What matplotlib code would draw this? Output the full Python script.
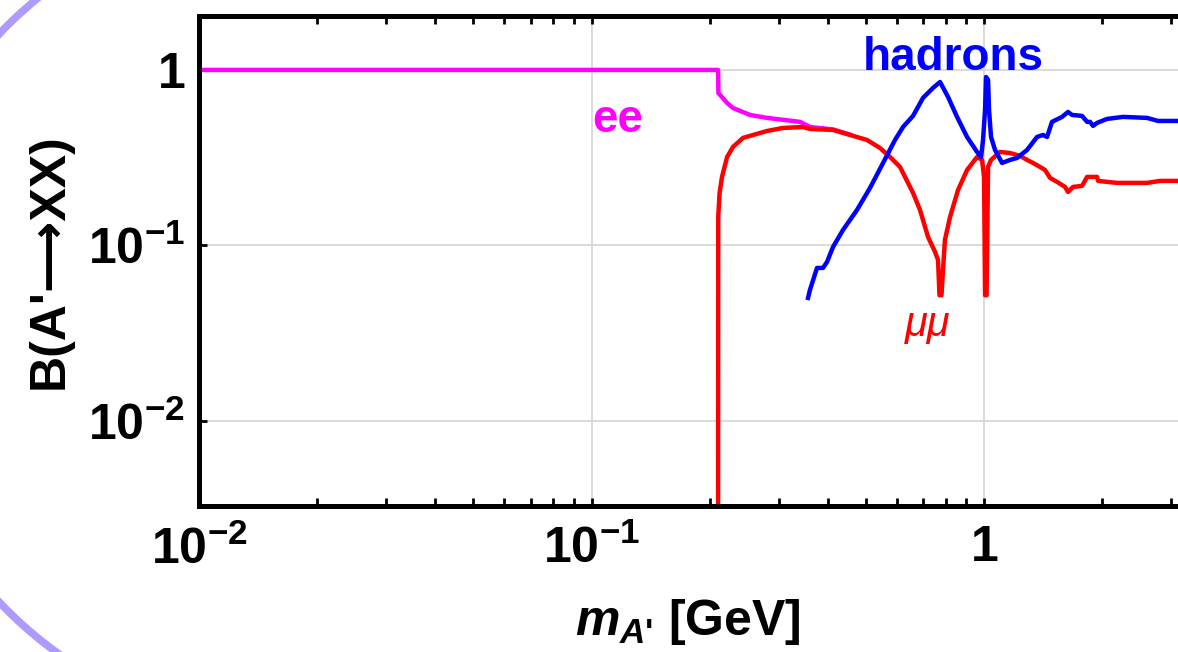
import matplotlib
matplotlib.use("Agg")
import matplotlib.pyplot as plt
from matplotlib.ticker import FixedLocator, FixedFormatter, LogLocator, NullFormatter, NullLocator
from matplotlib.patches import Arc
from matplotlib.transforms import IdentityTransform

# branching ratios
ee_mass = [0.01, 0.2101, 0.2105, 0.2215, 0.2293, 0.2534, 0.2800, 0.3398, 0.3602, 0.4124, 0.4556]
ee_br = [1.0, 1.0, 0.739, 0.649, 0.607, 0.554, 0.533, 0.506, 0.473, 0.458, 0.428]

mumu_mass = [0.2101, 0.2103, 0.2120, 0.2150, 0.2215, 0.2293, 0.2432, 0.2800, 0.3075, 0.3458, 0.3602,
             0.4124, 0.4556, 0.5033, 0.5433, 0.5761, 0.6109, 0.6593, 0.6868, 0.7199, 0.7502,
             0.7634, 0.7700, 0.7790, 0.7861, 0.7950, 0.8192, 0.8586, 0.9051, 0.9598, 0.9884,
             1.0000, 1.0059, 1.0150, 1.0238, 1.0418, 1.0985, 1.1648, 1.2351, 1.2870, 1.3330,
             1.3889, 1.4302, 1.4729, 1.5346, 1.6084, 1.6368, 1.6856, 1.7772, 1.8301, 1.9406,
             1.9518, 2.1823, 2.6018, 2.8082, 3.5]
mumu_br = [0.003, 0.1453, 0.200, 0.2457, 0.319, 0.364, 0.410, 0.449, 0.467, 0.473, 0.461,
           0.455, 0.426, 0.399, 0.359, 0.319, 0.280, 0.1991, 0.1593, 0.1117, 0.0918,
           0.0827, 0.052, 0.052, 0.0725, 0.1075, 0.1453, 0.2071, 0.269, 0.319, 0.307,
           0.2457, 0.052, 0.052, 0.280, 0.307, 0.341, 0.336, 0.324, 0.307, 0.295,
           0.280, 0.269, 0.2424, 0.2301, 0.2154, 0.2017, 0.2154, 0.2183, 0.2457, 0.2457,
           0.2331, 0.2271, 0.2271, 0.2331, 0.2331]

had_mass = [0.3561, 0.3602, 0.3754, 0.3889, 0.3981, 0.4124, 0.4373, 0.4747, 0.5123, 0.5530,
            0.5932, 0.6217, 0.6593, 0.6991, 0.7414, 0.7725, 0.8096, 0.8535, 0.9051, 0.9598,
            0.9826, 0.9942, 1.0059, 1.0118, 1.0238, 1.0297, 1.0418, 1.0666, 1.1114, 1.1648,
            1.2136, 1.2870, 1.3646, 1.4135, 1.4471, 1.4901, 1.5803, 1.6368, 1.6757, 1.7772,
            1.8301, 1.8626, 1.8955, 1.9406, 2.0579, 2.2607, 2.6018, 2.7755, 3.5]
had_br = [0.0502, 0.0558, 0.0744, 0.0744, 0.0805, 0.0980, 0.1225, 0.1593, 0.2126, 0.295,
          0.399, 0.473, 0.547, 0.693, 0.790, 0.854, 0.702, 0.540, 0.415, 0.341,
          0.319, 0.399, 0.592, 0.912, 0.877, 0.592, 0.415, 0.350, 0.295, 0.307,
          0.315, 0.350, 0.415, 0.426, 0.415, 0.506, 0.540, 0.576, 0.554, 0.547,
          0.506, 0.506, 0.480, 0.499, 0.526, 0.540, 0.533, 0.512, 0.512]

major_ticks = [0.01, 0.1, 1]
x_labels = [r"$10^{-2}$", r"$10^{-1}$", r"$1$"]
y_labels = [r"$10^{-2}$", r"$10^{-1}$", r"$1$"]

plt.rcParams['font.family'] = ['Liberation Sans', 'DejaVu Sans']
plt.rcParams['font.weight'] = 'bold'
plt.rcParams['axes.labelweight'] = 'bold'
plt.rcParams['mathtext.fontset'] = 'custom'
plt.rcParams['mathtext.rm'] = 'Liberation Sans:bold'
plt.rcParams['mathtext.it'] = 'Liberation Sans:italic:bold'
plt.rcParams['mathtext.bf'] = 'Liberation Sans:bold'
plt.rcParams['mathtext.default'] = 'rm'

fig = plt.figure(figsize=(11.78, 6.52), dpi=100)
ax = fig.add_axes([199 / 1178, 146 / 652, 998.6 / 1178, 490 / 652])

lw = 3.2
ax.plot(ee_mass, ee_br, color='#ff00ff', lw=lw, solid_joinstyle='round')
ax.plot(mumu_mass, mumu_br, color='#ff0000', lw=lw, solid_joinstyle='round')
ax.plot(had_mass, had_br, color='#0000ff', lw=lw, solid_joinstyle='round')

ax.set_xscale('log')
ax.set_yscale('log')
ax.set_xlim(0.01, 3.5)
ax.set_ylim(0.00327, 2.03)

ax.xaxis.set_major_locator(FixedLocator(major_ticks))
ax.xaxis.set_major_formatter(FixedFormatter(x_labels))
ax.xaxis.set_minor_locator(LogLocator(base=10, subs=range(2, 10)))
ax.xaxis.set_minor_formatter(NullFormatter())
ax.yaxis.set_major_locator(FixedLocator(major_ticks))
ax.yaxis.set_major_formatter(FixedFormatter(y_labels))
ax.yaxis.set_minor_locator(NullLocator())

ax.tick_params(which='both', direction='in', top=True, right=True, width=2, length=6)
ax.tick_params(axis='x', which='major', labelsize=36, pad=14)
ax.tick_params(axis='y', which='major', labelsize=36, pad=10)

ax.grid(True, which='major', color='#d4d4d4', lw=1.2)
ax.set_axisbelow(True)
for s in ax.spines.values():
    s.set_linewidth(3.6)

ax.set_xlabel(r"$\mathit{m}_{\mathit{A}\text{'}}$ [GeV]", fontsize=36)
ax.xaxis.set_label_coords(0.49, -0.185)
ax.set_ylabel("B(A'⟶XX)", fontsize=36)
ax.yaxis.set_label_coords(-0.127, 0.5)

# curve labels
ax.text(0.1168, 0.52, "ee", color='#ff00ff', fontsize=33, ha='center', va='center')
ax.text(0.834, 1.17, "hadrons", color='#0000ff', fontsize=33, ha='center', va='center')
ax.text(0.7199, 0.0352, "μμ", color='#ff0000', fontsize=30, style='italic',
        fontweight='normal', ha='center', va='center')

# bits of the purple ring behind the slide
for t1, t2 in [(128, 140), (220, 236)]:
    fig.add_artist(Arc((299, 334), 826, 826, theta1=t1, theta2=t2, color='#b09aff',
                       lw=5.5, transform=IdentityTransform()))

fig.savefig("out.png", dpi=100)
